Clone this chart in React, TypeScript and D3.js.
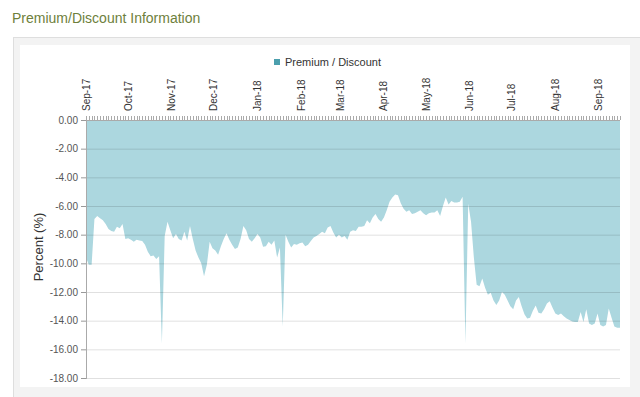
import React from 'react';
import * as d3 from 'd3';

// premium / discount, one reading every 2 calendar days from 1 Sep 2017
const startDate = new Date(2017, 8, 1);
const stepDays = 2;
const premium = [
	-9.6, -10.1, -10.1, -6.9, -6.7, -6.85, -7.0, -7.25, -7.6, -7.75,
	-7.8, -7.45, -7.55, -7.25, -8.3, -8.25, -8.35, -8.5, -8.35, -8.4,
	-8.45, -8.7, -9.2, -9.5, -9.45, -9.7, -9.5, -15.6, -8.1, -7.1,
	-7.7, -8.25, -7.95, -8.3, -8.4, -7.8, -8.4, -7.4, -8.3, -9.1,
	-9.6, -10.0, -10.9, -10.1, -8.5, -8.95, -9.1, -9.4, -8.8, -8.3,
	-7.9, -8.35, -8.7, -9.0, -8.9, -8.3, -7.4, -7.7, -8.3, -8.5,
	-8.25, -7.95, -8.2, -8.85, -8.8, -8.5, -8.7, -8.4, -9.6, -8.9,
	-14.4, -8.0, -8.5, -8.9, -8.65, -8.7, -8.6, -8.55, -8.8, -8.7,
	-8.45, -8.2, -8.1, -7.95, -7.8, -7.9, -7.5, -7.4, -7.85, -8.2,
	-8.0, -8.2, -8.1, -8.35, -7.8, -7.7, -7.75, -7.45, -7.45, -7.4,
	-7.0, -7.2, -6.8, -6.55, -6.9, -7.1, -6.8, -6.3, -5.7, -5.4,
	-5.2, -5.25, -5.8, -6.2, -6.4, -6.3, -6.55, -6.5, -6.4, -6.3,
	-6.5, -6.65, -6.5, -6.45, -6.45, -6.3, -6.7, -6.0, -5.4, -5.9,
	-5.65, -5.75, -5.75, -5.7, -5.35, -15.6, -5.85, -7.1, -9.6, -11.5,
	-11.6, -11.05, -11.7, -12.2, -12.05, -12.6, -12.9, -12.6, -12.0, -12.2,
	-12.6, -13.0, -13.2, -12.6, -12.35, -13.0, -13.55, -13.85, -13.8, -13.3,
	-12.95, -13.45, -13.5, -13.2, -12.8, -12.65, -13.1, -13.5, -13.6, -13.5,
	-13.7, -13.85, -13.95, -14.05, -14.1, -14.1, -13.4, -14.1, -13.2, -14.2,
	-14.3, -14.2, -13.5, -14.3, -14.4, -14.3, -13.15, -13.8, -14.4, -14.5,
	-14.5,
];
const yTicks = [0, -2, -4, -6, -8, -10, -12, -14, -16, -18];
const monthLabels = [
	'Sep-17', 'Oct-17', 'Nov-17', 'Dec-17', 'Jan-18', 'Feb-18', 'Mar-18',
	'Apr-18', 'May-18', 'Jun-18', 'Jul-18', 'Aug-18', 'Sep-18',
];
const seriesName = 'Premium / Discount';
const title = 'Premium/Discount Information';

const font = 'Arial, "Liberation Sans", sans-serif';

export default function App() {
	// Measurements
	const margin = { top: 120, right: 20, bottom: 19, left: 86 };
	const width = 640;
	const height = 397;

	const data = premium.map((v, i) => ({
		date: d3.timeDay.offset(startDate, i * stepDays),
		value: v,
	}));

	// Scales
	const xscale = d3
		.scaleTime()
		.domain(d3.extent(data, (d) => d.date) as [Date, Date])
		.range([margin.left, width - margin.right]);

	const yscale = d3
		.scaleLinear()
		.domain([0, -18])
		.range([margin.top, height - margin.bottom]);

	const area = d3
		.area<{ date: Date; value: number }>()
		.x((d) => xscale(d.date))
		.y0(yscale(0))
		.y1((d) => yscale(d.value));

	const months = monthLabels.map((label, i) => ({
		label,
		date: d3.timeMonth.offset(startDate, i),
	}));

	const x0 = margin.left;
	const x1 = width - margin.right;

	return (
		<svg
			width={width}
			height={height}
			style={{ position: 'absolute', left: 0, top: 0, fontFamily: font }}
		>
			<rect x={0} y={0} width={width} height={height} fill="#fff" />
			<text x={12} y={23} fontSize={14} fill="#6e7f3c">
				{title}
			</text>

			{/* card */}
			<rect x={13.5} y={37.5} width={640} height={370} fill="#f3f3f3" stroke="#dedede" />
			<rect x={20} y={45} width={610} height={342} fill="#fff" />

			{/* legend */}
			<rect x={274} y={59} width={6} height={6} fill="#4b9fad" />
			<text x={285} y={66} fontSize={11} fill="#333">
				{seriesName}
			</text>

			{/* area */}
			<path d={area(data) || ''} fill="#acd7df" />

			{/* grid */}
			{yTicks.map((t) => (
				<g key={t}>
					<line
						x1={x0}
						x2={x1}
						y1={yscale(t) + 0.5}
						y2={yscale(t) + 0.5}
						stroke="rgba(0,0,0,0.12)"
					/>
					<line
						x1={x0 - 5}
						x2={x0}
						y1={yscale(t) + 0.5}
						y2={yscale(t) + 0.5}
						stroke="#999"
					/>
					<text
						x={x0 - 8}
						y={yscale(t)}
						dy="0.35em"
						textAnchor="end"
						fontSize={10}
						fill="#555"
					>
						{t.toFixed(2)}
					</text>
				</g>
			))}

			{/* axes */}
			<line x1={x0 + 0.5} x2={x0 + 0.5} y1={yscale(0)} y2={yscale(-18) + 1} stroke="#aaa" />
			<line x1={x0} x2={x1} y1={yscale(0) + 0.5} y2={yscale(0) + 0.5} stroke="#aaa" />
			{data.map((d, i) => (
				<line
					key={i}
					x1={Math.round(xscale(d.date)) + 0.5}
					x2={Math.round(xscale(d.date)) + 0.5}
					y1={yscale(0) - 4}
					y2={yscale(0)}
					stroke="#aaa"
				/>
			))}
			{months.map((m) => (
				<text
					key={m.label}
					transform={`translate(${xscale(m.date)}, ${yscale(0) - 9}) rotate(-90)`}
					dy="0.35em"
					textAnchor="start"
					fontSize={10}
					fill="#333"
				>
					{m.label}
				</text>
			))}

			<text
				transform={`translate(38, ${(yscale(0) + yscale(-18)) / 2 - 2}) rotate(-90)`}
				dy="0.35em"
				textAnchor="middle"
				fontSize={13}
				fill="#333"
			>
				Percent (%)
			</text>
		</svg>
	);
}
